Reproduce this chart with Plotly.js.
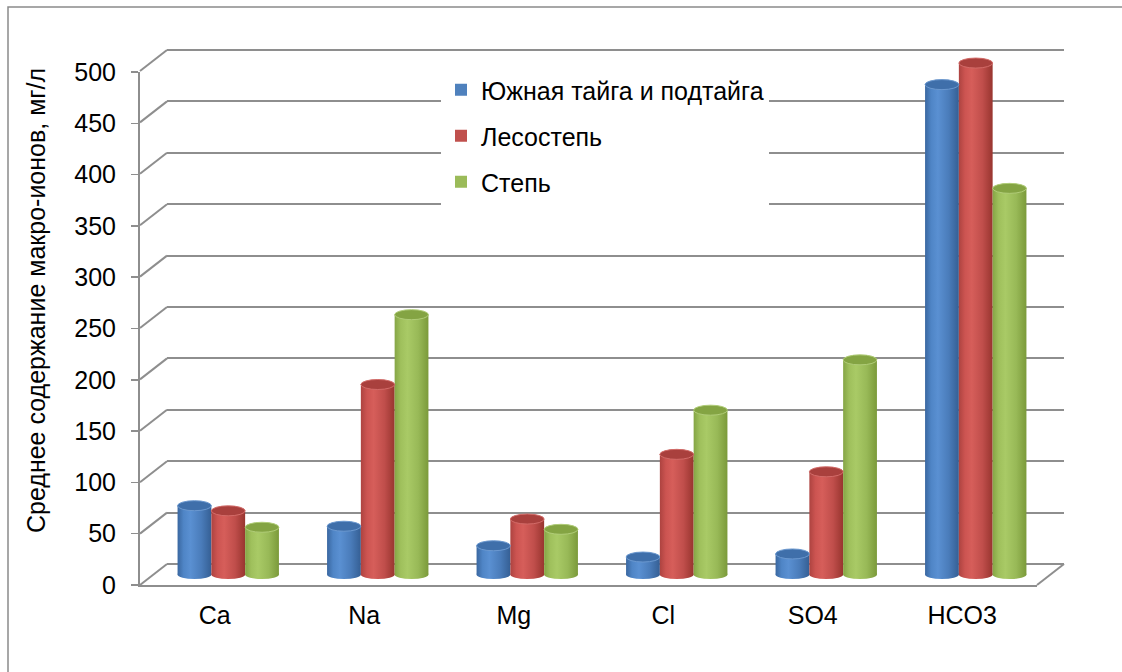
<!DOCTYPE html>
<html>
<head>
<meta charset="utf-8">
<script src="https://cdn.plot.ly/plotly-3.0.1.min.js"></script>
<style>
  html, body { margin: 0; padding: 0; background: #ffffff; }
  #chart { width: 1122px; height: 672px; }
</style>
</head>
<body>
<div id="chart"></div>
<script>
// Mean macro-ion content by natural zone, mg/l
const ions = ['Ca', 'Na', 'Mg', 'Cl', 'SO4', 'HCO3'];
const southTaiga = [67, 47, 28, 17, 20, 477];
const forestSteppe = [62, 185, 54, 117, 100, 498];
const steppe = [46, 253, 44, 160, 209, 376];
const zoneNames = ['Южная тайга и подтайга', 'Лесостепь', 'Степь'];
const yTickValues = [0, 50, 100, 150, 200, 250, 300, 350, 400, 450, 500];
const yTitle = 'Среднее содержание макро-ионов, мг/л';

const W = 1122, H = 672;
const FONT = 'Liberation Sans, Arial, sans-serif';
const FS = 25;
const GRID = '#8e8e8e';
const bodyColors = ['#4F81BD', '#C0504D', '#9BBB59'];
const capColors = ['#3f6faa', '#a9403d', '#84a443'];
const rimColors = ['#6b98cf', '#d26b68', '#b0cc78'];
// horizontal shading across each cylinder
const cylinderStops = [
  [[0, '#3a67a0'], [0.18, '#4f85c6'], [0.38, '#5a90d2'], [0.7, '#4a7cba'], [1, '#355f94']],
  [[0, '#ad4340'], [0.18, '#cc5451'], [0.38, '#d65e5a'], [0.7, '#c04e4b'], [1, '#98352f']],
  [[0, '#85a545'], [0.18, '#9fc05c'], [0.38, '#a9ca66'], [0.7, '#98b957'], [1, '#7b9a3a']]
];
const seriesValues = [southTaiga, forestSteppe, steppe];

// pixel helpers for axis domains
const fx = px => px / W;
const fy = py => 1 - py / H;

const BARGAP = 0.322;
const slot = (1 - BARGAP) / 3;
const catPx = (1037 - 140) / ions.length;
const barPx = slot * catPx;

// back wall scale: 0 at 564px, 500 at 50px; padded so edge lines are kept
const backPerUnit = (564 - 50) / 500;
const backLow = -24, backHigh = 504;
// bar scale: 0 at 574.5px, 500 at 61px
const barPerUnit = (574.5 - 61) / 500;
const barLow = -10, barHigh = 512;

const data = [];
// back wall (drawn first so its grid sits under the cylinders)
data.push({
  type: 'scatter', x: ions, y: ions.map(() => 0), xaxis: 'x', yaxis: 'y',
  mode: 'none', showlegend: false, hoverinfo: 'skip'
});
seriesValues.forEach((vals, i) => {
  data.push({
    type: 'bar', x: ions, y: vals, name: zoneNames[i], xaxis: 'x2', yaxis: 'y2',
    marker: { color: bodyColors[i], line: { width: 0 } },
    legendgroup: 'z' + i, hoverinfo: 'skip'
  });
});
// front axes: tick labels, category labels, floor edge
data.push({
  type: 'scatter', x: ions, y: ions.map(() => 0), xaxis: 'x3', yaxis: 'y3',
  mode: 'none', showlegend: false, hoverinfo: 'skip'
});

const shapes = [];
// depth lines joining the front ticks to the back-wall grid
yTickValues.forEach(v => {
  shapes.push({
    type: 'line', layer: 'below',
    xref: 'x domain', xsizemode: 'pixel', xanchor: 0, x0: -27, x1: 0,
    yref: 'y', ysizemode: 'pixel', yanchor: v, y0: -21, y1: 0,
    line: { color: GRID, width: 2 }
  });
});
// right edge of the floor
shapes.push({
  type: 'line', layer: 'below',
  xref: 'x domain', xsizemode: 'pixel', xanchor: 1, x0: -27, x1: 0,
  yref: 'y', ysizemode: 'pixel', yanchor: 0, y0: -21, y1: 0,
  line: { color: GRID, width: 2 }
});
// outer frame
shapes.push({
  type: 'rect', xref: 'paper', yref: 'paper', layer: 'below',
  x0: fx(8), x1: 1.05, y0: -0.05, y1: fy(7),
  line: { color: '#8a8a8a', width: 1.5 }, fillcolor: 'rgba(0,0,0,0)'
});
// cylinder ends
const bottomCaps = [];
seriesValues.forEach((vals, i) => {
  const off = (i - 1) * slot;
  vals.forEach((v, j) => {
    bottomCaps.push({ idx: shapes.length, series: i });
    shapes.push({
      type: 'circle', layer: 'below',
      xref: 'x2', xsizemode: 'pixel', xanchor: j + off, x0: -barPx / 2, x1: barPx / 2,
      yref: 'y2', ysizemode: 'pixel', yanchor: 0, y0: -4.5, y1: 4.5,
      fillcolor: bodyColors[i], line: { width: 0 }
    });
    shapes.push({
      type: 'circle', layer: 'above',
      xref: 'x2', xsizemode: 'pixel', xanchor: j + off, x0: -barPx / 2, x1: barPx / 2,
      yref: 'y2', ysizemode: 'pixel', yanchor: v, y0: -5, y1: 5,
      fillcolor: capColors[i], line: { color: rimColors[i], width: 1 }
    });
  });
});

const hidden = { showgrid: false, zeroline: false, showline: false, showticklabels: false, ticks: '' };

const layout = {
  width: W, height: H,
  margin: { l: 0, r: 0, t: 0, b: 0 },
  paper_bgcolor: '#ffffff', plot_bgcolor: 'rgba(0,0,0,0)',
  font: { family: FONT, size: FS, color: '#000000' },
  barmode: 'group', bargap: BARGAP, bargroupgap: 0,
  showlegend: true,
  legend: {
    x: fx(441), xanchor: 'left', y: fy(67), yanchor: 'top',
    bgcolor: '#ffffff', borderwidth: 0,
    font: { family: FONT, size: FS, color: '#000000' },
    traceorder: 'grouped', tracegroupgap: 10.5
  },
  xaxis: Object.assign({}, hidden, {
    domain: [fx(167), fx(1064)], anchor: 'y', type: 'category',
    categoryorder: 'array', categoryarray: ions, range: [-0.5, 5.5]
  }),
  yaxis: Object.assign({}, hidden, {
    domain: [fy(564 - backLow * backPerUnit), fy(50 - (backHigh - 500) * backPerUnit)], anchor: 'x',
    range: [backLow, backHigh], showgrid: true, gridcolor: GRID, gridwidth: 2,
    tickmode: 'array', tickvals: yTickValues
  }),
  xaxis2: Object.assign({}, hidden, {
    domain: [fx(153.5), fx(1050.5)], anchor: 'y2', type: 'category',
    categoryorder: 'array', categoryarray: ions, range: [-0.5, 5.5]
  }),
  yaxis2: Object.assign({}, hidden, {
    domain: [fy(574.5 - barLow * barPerUnit), fy(61 - (barHigh - 500) * barPerUnit)],
    anchor: 'x2', range: [barLow, barHigh]
  }),
  xaxis3: {
    domain: [fx(140), fx(1037)], anchor: 'y3', type: 'category',
    categoryorder: 'array', categoryarray: ions, range: [-0.5, 5.5],
    showgrid: false, zeroline: false, showline: true, linecolor: GRID, linewidth: 2,
    ticks: '', showticklabels: true, ticklabelstandoff: 7,
    tickfont: { family: FONT, size: FS, color: '#000000' }
  },
  yaxis3: {
    domain: [fy(585), fy(72)], anchor: 'x3', range: [0, 500],
    tickmode: 'array', tickvals: yTickValues,
    showgrid: false, zeroline: false, showline: true, linecolor: GRID, linewidth: 2,
    ticks: 'outside', ticklen: 7, tickwidth: 1.5, tickcolor: GRID,
    ticklabelstandoff: 10,
    tickfont: { family: FONT, size: FS, color: '#000000' }
  },
  shapes: shapes,
  annotations: [{
    text: yTitle, xref: 'paper', yref: 'paper', x: fx(36), y: fy(301),
    xanchor: 'center', yanchor: 'middle', textangle: -90, showarrow: false,
    font: { family: FONT, size: FS, color: '#000000' }
  }]
};

function shadeCylinders(gd) {
  const ns = 'http://www.w3.org/2000/svg';
  const svg = gd.querySelector('svg.main-svg');
  let defs = svg.querySelector('defs');
  if (!defs) { defs = document.createElementNS(ns, 'defs'); svg.insertBefore(defs, svg.firstChild); }
  cylinderStops.forEach((stops, i) => {
    const g = document.createElementNS(ns, 'linearGradient');
    g.setAttribute('id', 'cyl' + i);
    g.setAttribute('x1', '0'); g.setAttribute('y1', '0');
    g.setAttribute('x2', '1'); g.setAttribute('y2', '0');
    stops.forEach(([o, c]) => {
      const s = document.createElementNS(ns, 'stop');
      s.setAttribute('offset', o); s.setAttribute('stop-color', c);
      g.appendChild(s);
    });
    defs.appendChild(g);
  });
  gd.querySelectorAll('.barlayer .trace').forEach((tr, i) => {
    tr.querySelectorAll('path').forEach(p => { p.style.fill = 'url(#cyl' + i + ')'; });
  });
  bottomCaps.forEach(c => {
    const p = gd.querySelector('path[data-index="' + c.idx + '"]');
    if (p) p.style.fill = 'url(#cyl' + c.series + ')';
  });
}

Plotly.newPlot('chart', data, layout, { staticPlot: true, displayModeBar: false })
  .then(shadeCylinders);
</script>
</body>
</html>
